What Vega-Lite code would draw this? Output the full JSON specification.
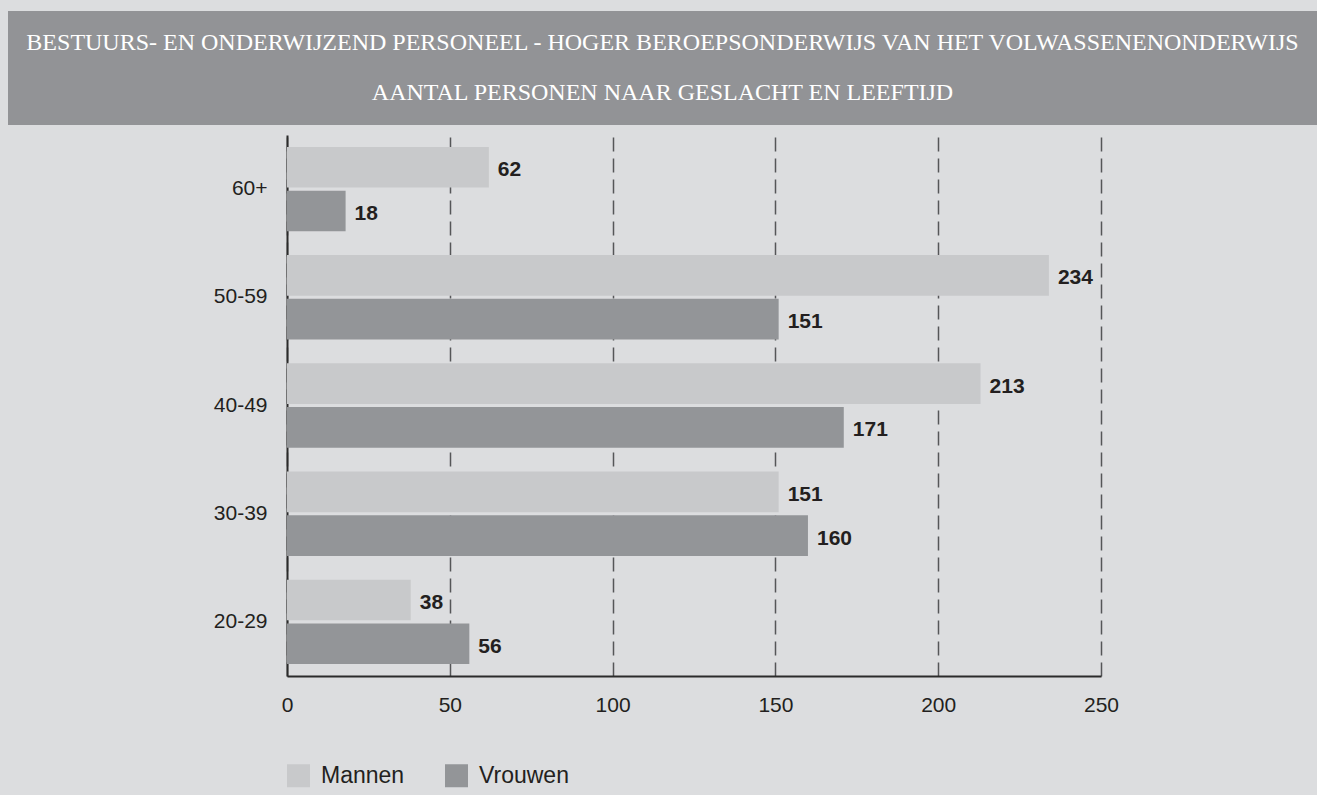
{
  "$schema": "https://vega.github.io/schema/vega-lite/v6.json",
  "background": "#dcdddf",
  "padding": {"left": 8, "top": 11, "right": 0, "bottom": 7},
  "spacing": 10,
  "config": {
    "font": "Liberation Sans",
    "view": {"stroke": null}
  },
  "vconcat": [
    {
      "width": 1309,
      "height": 114,
      "view": {"fill": "#929396", "stroke": null},
      "data": {
        "values": [
          {"line": 1, "text": "BESTUURS- EN ONDERWIJZEND PERSONEEL - HOGER BEROEPSONDERWIJS VAN HET VOLWASSENENONDERWIJS"},
          {"line": 2, "text": "AANTAL PERSONEN NAAR GESLACHT EN LEEFTIJD"}
        ]
      },
      "mark": {"type": "text", "font": "Liberation Serif", "fontSize": 24, "color": "#ffffff", "baseline": "middle", "align": "center"},
      "encoding": {
        "y": {"field": "line", "type": "ordinal", "axis": null, "scale": {"padding": 0.66}},
        "text": {"field": "text"}
      }
    },
    {
      "width": 1309,
      "height": 541,
      "data": {
        "values": [
          {"age": "60+", "sex": "Mannen", "value": 62},
          {"age": "60+", "sex": "Vrouwen", "value": 18},
          {"age": "50-59", "sex": "Mannen", "value": 234},
          {"age": "50-59", "sex": "Vrouwen", "value": 151},
          {"age": "40-49", "sex": "Mannen", "value": 213},
          {"age": "40-49", "sex": "Vrouwen", "value": 171},
          {"age": "30-39", "sex": "Mannen", "value": 151},
          {"age": "30-39", "sex": "Vrouwen", "value": 160},
          {"age": "20-29", "sex": "Mannen", "value": 38},
          {"age": "20-29", "sex": "Vrouwen", "value": 56}
        ]
      },
      "encoding": {
        "y": {
          "field": "age",
          "type": "nominal",
          "sort": ["60+", "50-59", "40-49", "30-39", "20-29"],
          "scale": {"paddingInner": 0.22, "paddingOuter": 0.11},
          "axis": {
            "title": null,
            "ticks": false,
            "offset": -279,
            "labelFont": "Liberation Sans",
            "labelFontSize": 21,
            "labelColor": "#231f20",
            "labelPadding": 20,
            "domainColor": "#2b2b2b",
            "domainWidth": 2
          }
        },
        "yOffset": {
          "field": "sex",
          "type": "nominal",
          "sort": ["Mannen", "Vrouwen"],
          "scale": {"paddingInner": 0.07}
        },
        "x": {
          "field": "value",
          "type": "quantitative",
          "scale": {"domain": [0, 250], "nice": false, "range": [279, 1093]},
          "axis": {
            "title": null,
            "values": [0, 50, 100, 150, 200, 250],
            "format": "d",
            "ticks": false,
            "labelFlush": false,
            "labelFont": "Liberation Sans",
            "labelFontSize": 21,
            "labelColor": "#231f20",
            "labelPadding": 18,
            "grid": true,
            "gridDash": [14, 7],
            "gridColor": "#555658",
            "gridWidth": 1.5,
            "domainColor": "#2b2b2b",
            "domainWidth": 2
          }
        }
      },
      "layer": [
        {
          "mark": {"type": "bar"},
          "encoding": {
            "color": {
              "field": "sex",
              "type": "nominal",
              "scale": {"domain": ["Mannen", "Vrouwen"], "range": ["#c8c9cb", "#939598"]},
              "legend": {
                "title": null,
                "orient": "none",
                "legendX": 279,
                "legendY": 753,
                "direction": "horizontal",
                "symbolType": "square",
                "symbolSize": 529,
                "symbolStrokeWidth": 0,
                "symbolOpacity": 1,
                "labelFont": "Liberation Sans",
                "labelFontSize": 23,
                "labelColor": "#231f20",
                "labelOffset": 11,
                "columnPadding": 40,
                "padding": 0
              }
            }
          }
        },
        {
          "mark": {
            "type": "text",
            "align": "left",
            "baseline": "middle",
            "dx": 9,
            "dy": 3,
            "font": "Liberation Sans",
            "fontSize": 21,
            "fontWeight": "bold",
            "color": "#231f20"
          },
          "encoding": {
            "text": {"field": "value", "type": "quantitative", "format": "d"}
          }
        }
      ]
    }
  ]
}
